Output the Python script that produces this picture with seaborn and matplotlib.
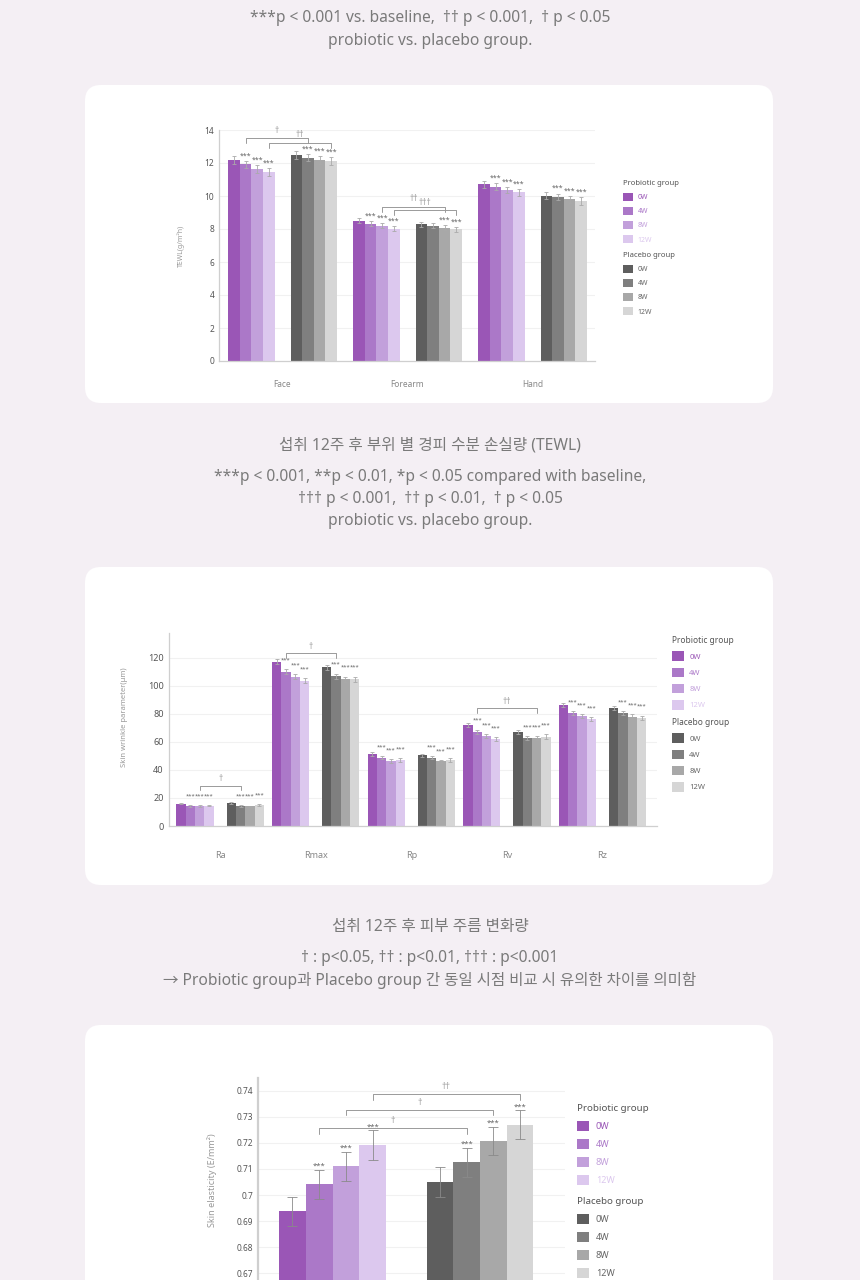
import numpy as np
import pandas as pd
import seaborn as sns
import matplotlib.pyplot as plt
from matplotlib.patches import FancyBboxPatch, Patch

sns.set_theme(style="white")
plt.rcParams['font.family'] = ['Noto Sans', 'Noto Sans CJK KR', 'DejaVu Sans']

W, H = 860, 1280
BG = "#f4eff4"
TXT = "#7a7a7a"

weeks = ["0W", "4W", "8W", "12W"]
probiotic_colors = ["#9a56b6", "#ab78c8", "#c2a0db", "#dcc8ee"]
placebo_colors = ["#5e5e5e", "#7f7f7f", "#a8a8a8", "#d6d6d6"]
series_names = ["Probiotic " + w for w in weeks] + ["Placebo " + w for w in weeks]
palette = dict(zip(series_names, probiotic_colors + placebo_colors))

# TEWL (g/m2h)
tewl_sites = ["Face", "Forearm", "Hand"]
tewl_probiotic = [[12.18, 11.92, 11.65, 11.45], [8.50, 8.33, 8.19, 8.01], [10.70, 10.56, 10.36, 10.22]]
tewl_placebo = [[12.48, 12.32, 12.18, 12.14], [8.29, 8.21, 8.09, 7.97], [10.03, 9.95, 9.79, 9.69]]
tewl_probiotic_err = [[0.22, 0.22, 0.24, 0.24], [0.14, 0.14, 0.15, 0.15], [0.20, 0.20, 0.20, 0.20]]
tewl_placebo_err = [[0.22, 0.22, 0.22, 0.24], [0.14, 0.14, 0.15, 0.16], [0.22, 0.20, 0.20, 0.22]]
tewl_stars = [[0, 1, 1, 1, 0, 1, 1, 1], [0, 1, 1, 1, 0, 0, 1, 1], [0, 1, 1, 1, 0, 1, 1, 1]]
tewl_brackets = [(0, 1, 5, 13.50, "†"), (0, 3, 7, 13.23, "††"),
                 (1, 2, 6, 9.35, "††"), (1, 3, 7, 9.15, "†††")]

# Skin wrinkle parameters (um)
wrinkle_params = ["Ra", "Rmax", "Rp", "Rv", "Rz"]
wrinkle_probiotic = [[16.0, 14.5, 14.2, 14.6], [117.2, 110.0, 106.5, 103.6], [51.3, 48.7, 46.3, 47.1],
                     [71.8, 67.3, 64.2, 62.0], [86.3, 80.3, 78.7, 76.3]]
wrinkle_placebo = [[16.2, 14.3, 14.0, 15.0], [113.1, 106.9, 104.8, 104.8], [50.4, 48.7, 46.1, 47.1],
                   [67.3, 62.5, 62.5, 63.7], [84.4, 80.3, 77.9, 77.2]]
wrinkle_probiotic_err = [[0.6, 0.6, 0.6, 0.6], [1.8, 1.8, 1.8, 1.8], [1.2, 1.2, 1.2, 1.2],
                         [1.5, 1.5, 1.5, 1.5], [1.4, 1.4, 1.4, 1.4]]
wrinkle_placebo_err = [[0.6, 0.6, 0.6, 0.6], [1.8, 1.8, 1.8, 1.8], [1.2, 1.2, 1.2, 1.2],
                       [1.5, 1.5, 1.5, 2.0], [1.4, 1.4, 1.8, 1.6]]
wrinkle_stars = [[0, 1, 1, 1, 0, 1, 1, 1]] * 5
wrinkle_brackets = [(0, 2, 5, 28.8, "†"), (1, 1, 5, 123.1, "†"), (3, 1, 6, 83.9, "††")]

# Skin elasticity (E/mm2)
elasticity_probiotic = [[0.6938, 0.7041, 0.7111, 0.7192]]
elasticity_placebo = [[0.7051, 0.7125, 0.7207, 0.7270]]
elasticity_probiotic_err = [[0.0055, 0.0057, 0.0056, 0.0056]]
elasticity_placebo_err = [[0.0057, 0.0056, 0.0054, 0.0055]]
elasticity_stars = [[0, 1, 1, 1, 0, 1, 1, 1]]
elasticity_brackets = [(0, 1, 5, 0.7256, "†"), (0, 2, 6, 0.7325, "†"), (0, 3, 7, 0.7386, "††")]

fig = plt.figure(figsize=(W / 100, H / 100), dpi=100)
fig.patch.set_facecolor(BG)


def fx(x):
    return x / W


def fy(y):
    return 1 - y / H


def card(top, bottom):
    fig.patches.append(FancyBboxPatch((85 / 100, (H - bottom) / 100), 688 / 100, (bottom - top) / 100,
                                      boxstyle="round,pad=0,rounding_size=0.16", transform=fig.dpi_scale_trans,
                                      facecolor="white", edgecolor="none", zorder=-5))


def px_axes(left, top, right, bottom):
    return fig.add_axes([left / W, 1 - bottom / H, (right - left) / W, (bottom - top) / H])


def slot_offsets(w, g):
    return [-g / 2 - (3.5 - k) * w for k in range(4)] + [g / 2 + (k + 0.5) * w for k in range(4)]


def draw_bars(ax, n_cats, prob, plac, perr, pler, stars, w, g, star_pad, star_fs, err_color, capsize):
    offs = slot_offsets(w, g)
    rows = []
    for i in range(n_cats):
        vals = list(prob[i]) + list(plac[i])
        errs = list(perr[i]) + list(pler[i])
        for k in range(8):
            rows.append(dict(pos=i + offs[k], value=vals[k], err=errs[k],
                             series=series_names[k], star=stars[i][k]))
    df = pd.DataFrame(rows)
    sns.barplot(data=df, x="pos", y="value", hue="series", hue_order=series_names, palette=palette,
                native_scale=True, dodge=False, width=1, saturation=1, errorbar=None,
                legend=False, linewidth=0, ax=ax)
    ax.errorbar(df["pos"], df["value"], yerr=df["err"], fmt="none", ecolor=err_color,
                elinewidth=0.6, capsize=capsize, capthick=0.6, zorder=3)
    for r in df[df["star"] == 1].itertuples():
        ax.text(r.pos, r.value + r.err + star_pad, "***", ha="center", va="center",
                fontsize=star_fs, color="#666666", clip_on=False)
    return offs


def draw_brackets(ax, offs, brackets, drop, label_dy, fs):
    for cat, a, b, y, lab in brackets:
        x1, x2 = cat + offs[a], cat + offs[b]
        ax.plot([x1, x1, x2, x2], [y - drop, y, y, y - drop], color="#9a9a9a", lw=0.7, clip_on=False)
        ax.text((x1 + x2) / 2, y + label_dy, lab, ha="center", va="center", fontsize=fs,
                color="#9a9a9a", clip_on=False)


def style_axes(ax, tick_fs):
    for s in ["top", "right"]:
        ax.spines[s].set_visible(False)
    for s in ["left", "bottom"]:
        ax.spines[s].set_color("#cfcfcf")
        ax.spines[s].set_linewidth(0.9)
    ax.set_facecolor("none")
    ax.grid(axis="y", color="#f1f1f1", lw=0.8)
    ax.set_axisbelow(True)
    ax.tick_params(axis="both", length=0, labelsize=tick_fs, labelcolor="#555555")
    ax.set_xlabel("")


def add_legend(ax, x, y, gap, fs, title_fs, hl, spacing):
    common = dict(loc="upper left", bbox_transform=fig.transFigure, frameon=False, fontsize=fs,
                  title_fontsize=title_fs, alignment="left", handlelength=hl, handleheight=hl,
                  labelspacing=spacing, handletextpad=0.7, borderpad=0, borderaxespad=0)
    h1 = [Patch(facecolor=c, edgecolor="none") for c in probiotic_colors]
    leg1 = ax.legend(h1, weeks, title="Probiotic group", bbox_to_anchor=(fx(x), fy(y)), **common)
    for t, c in zip(leg1.get_texts(), probiotic_colors):
        t.set_color(c)
    leg1.get_title().set_color("#555555")
    ax.add_artist(leg1)
    h2 = [Patch(facecolor=c, edgecolor="none") for c in placebo_colors]
    leg2 = ax.legend(h2, weeks, title="Placebo group", bbox_to_anchor=(fx(x), fy(y + gap)), **common)
    for t in leg2.get_texts():
        t.set_color("#666666")
    leg2.get_title().set_color("#555555")


# header texts
def ctext(y, s, fs=11.2):
    fig.text(0.5, fy(y), s, ha="center", va="center", fontsize=fs, color=TXT)


ctext(18, "***p < 0.001 vs. baseline,  †† p < 0.001,  † p < 0.05")
ctext(41, "probiotic vs. placebo group.")
ctext(445, "섭취 12주 후 부위 별 경피 수분 손실량 (TEWL)", 11.3)
ctext(477, "***p < 0.001, **p < 0.01, *p < 0.05 compared with baseline,")
ctext(499, "††† p < 0.001,  †† p < 0.01,  † p < 0.05")
ctext(521, "probiotic vs. placebo group.")
ctext(927, "섭취 12주 후 피부 주름 변화량", 11.3)
ctext(958, "† : p<0.05, †† : p<0.01, ††† : p<0.001")
ctext(980, "→ Probiotic group과 Placebo group 간 동일 시점 비교 시 유의한 차이를 의미함")

card(85, 403)
card(567, 885)
card(1025, 1320)

# chart 1: TEWL
ax1 = px_axes(219, 130, 595, 361)
offs1 = draw_bars(ax1, 3, tewl_probiotic, tewl_placebo, tewl_probiotic_err, tewl_placebo_err,
                  tewl_stars, 0.0928, 0.128, 0.3, 5, "#aaaaaa", 1.2)
draw_brackets(ax1, offs1, tewl_brackets, 0.3, 0.47, 6)
style_axes(ax1, 6)
ax1.set_ylim(0, 14)
ax1.set_yticks(range(0, 15, 2))
ax1.set_xlim(-0.508, 2.5)
ax1.set_xticks(range(3))
ax1.set_xticklabels(tewl_sites, color="#888888")
ax1.tick_params(axis="x", pad=14)
ax1.set_ylabel("TEWL(g/m²h)", fontsize=5, color="#999999")
ax1.yaxis.set_label_coords(-0.09, 0.5)
add_legend(ax1, 623, 180, 72, 5, 5.5, 1.4, 0.84)

# chart 2: wrinkles
ax2 = px_axes(168.5, 632.5, 657, 826)
offs2 = draw_bars(ax2, 5, wrinkle_probiotic, wrinkle_placebo, wrinkle_probiotic_err, wrinkle_placebo_err,
                  wrinkle_stars, 0.0974, 0.135, 6.5, 4.2, "#aaaaaa", 1.2)
draw_brackets(ax2, offs2, wrinkle_brackets, 3.2, 4.8, 6)
style_axes(ax2, 6.5)
ax2.set_ylim(0, 138)
ax2.set_yticks(range(0, 121, 20))
ax2.set_xlim(-0.54, 4.57)
ax2.set_xticks(range(5))
ax2.set_xticklabels(wrinkle_params, color="#888888")
ax2.tick_params(axis="x", pad=18)
ax2.set_ylabel("Skin wrinkle parameter(μm)", fontsize=5.5, color="#999999")
ax2.yaxis.set_label_coords(-0.083, 0.56)
add_legend(ax2, 672, 636, 82, 5.5, 6, 1.57, 0.85)

# chart 3: elasticity
ax3 = px_axes(258.3, 1077.65, 565, 1299.5)
offs3 = draw_bars(ax3, 1, elasticity_probiotic, elasticity_placebo, elasticity_probiotic_err,
                  elasticity_placebo_err, elasticity_stars, 0.267, 0.407, 0.0013, 5.5, "#8a8a8a", 3.5)
draw_brackets(ax3, offs3, elasticity_brackets, 0.002, 0.0031, 6.5)
style_axes(ax3, 6)
ax3.spines["left"].set_linewidth(1.6)
ax3.set_ylim(0.66, 0.745)
ticks3 = np.round(np.arange(0.66, 0.745, 0.01), 2)
ax3.set_yticks(ticks3)
ax3.set_yticklabels([f"{v:g}" for v in ticks3])
ax3.set_xlim(-1.48, 1.587)
ax3.set_xticks([])
ax3.set_ylabel("Skin elasticity (E/mm²)", fontsize=6.5, color="#999999")
ax3.yaxis.set_label_coords(-0.135, 0.54)
add_legend(ax3, 577, 1104, 93, 6.5, 7, 1.38, 0.85)

fig.savefig("out.png", dpi=100, facecolor=BG)
